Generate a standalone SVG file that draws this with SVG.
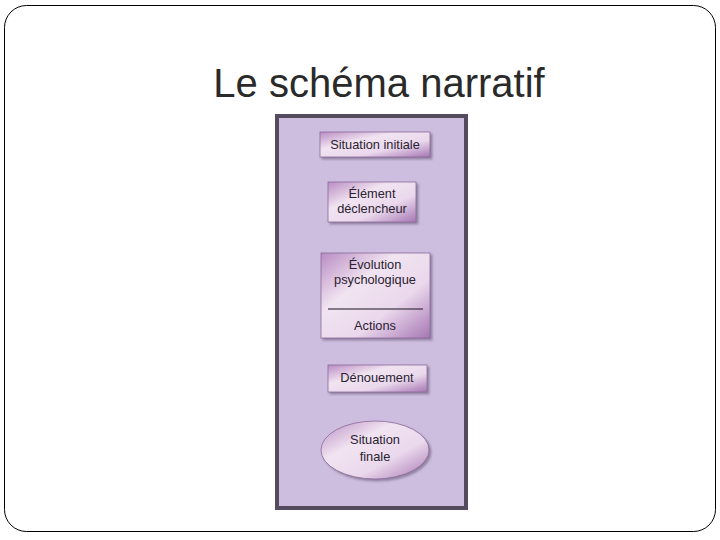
<svg xmlns="http://www.w3.org/2000/svg" width="720" height="540" viewBox="0 0 720 540">
<defs>
<linearGradient id="gl" x1="0" y1="0" x2="1" y2="1">
<stop offset="0" stop-color="#b98cc4"/>
<stop offset="0.35" stop-color="#f1e4f1"/>
<stop offset="0.65" stop-color="#ead8ec"/>
<stop offset="1" stop-color="#a676b4"/>
</linearGradient>
<filter id="sh" x="-20%" y="-20%" width="150%" height="150%">
<feDropShadow dx="2" dy="2" stdDeviation="1" flood-color="#6a5a78" flood-opacity="0.6"/>
</filter>
<style>
.box{fill:url(#gl);stroke:#8a6a98;stroke-width:0.8;filter:url(#sh)}
.t{font-family:"Liberation Sans",Arial,sans-serif;font-size:12.8px;fill:#2a2230;text-anchor:middle}
</style>
</defs>
<rect x="4.5" y="5.5" width="711" height="526" rx="22" fill="#fff" stroke="#000" stroke-width="1"/>
<text x="379" y="97" font-family="'Liberation Sans',Arial,sans-serif" font-size="40" fill="#2a2a2a" text-anchor="middle">Le schéma narratif</text>
<rect x="277" y="116" width="189" height="392" fill="#cdbddf" stroke="#544b5e" stroke-width="4"/>
<g id="n1"><rect class="box" x="320" y="132" width="110" height="25"/><text class="t" x="375" y="149">Situation initiale</text></g>
<g id="n2"><rect class="box" x="328" y="182" width="88" height="40"/><text class="t" x="372" y="198">Élément</text><text class="t" x="372" y="213">déclencheur</text></g>
<g id="n3"><rect class="box" x="321" y="253" width="109" height="85"/><text class="t" x="375" y="269">Évolution</text><text class="t" x="375" y="284">psychologique</text><line x1="328" y1="309" x2="423" y2="309" stroke="#1a1420" stroke-width="1"/><text class="t" x="375" y="330">Actions</text></g>
<g id="n4"><rect class="box" x="328" y="365" width="99" height="27"/><text class="t" x="377" y="382">Dénouement</text></g>
<g id="n5"><ellipse class="box" cx="375" cy="450" rx="54" ry="29"/><text class="t" x="375" y="444">Situation</text><text class="t" x="375" y="461">finale</text></g>
<g id="connectors"/>
</svg>
